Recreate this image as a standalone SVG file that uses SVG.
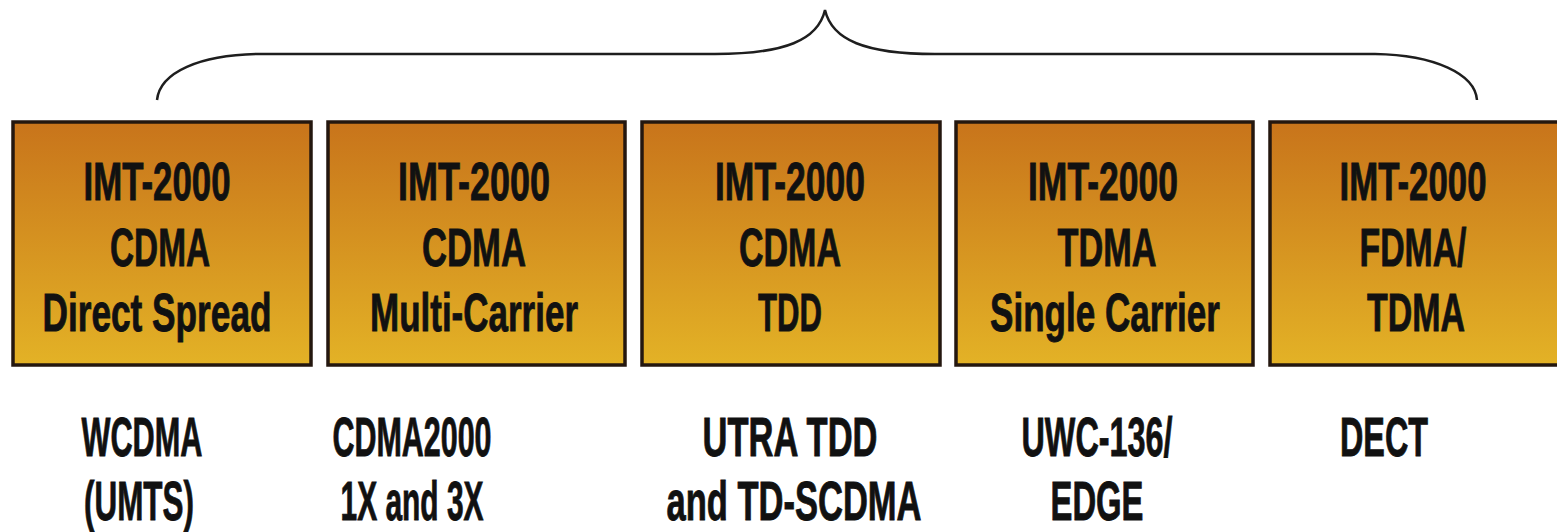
<svg xmlns="http://www.w3.org/2000/svg" width="1557" height="532" viewBox="0 0 1557 532">
<defs>
<linearGradient id="boxFill" x1="0" y1="0" x2="0" y2="1">
<stop offset="0" stop-color="#C8741B"/>
<stop offset="1" stop-color="#E3B226"/>
</linearGradient>
<style>
.box{fill:url(#boxFill);stroke:#24170f;stroke-width:3.5}
.bt{font-family:"Liberation Sans",Arial,sans-serif;font-weight:bold;font-size:54px;fill:#111;stroke:#111;stroke-width:0.9;text-anchor:middle}
.lb{font-family:"Liberation Sans",Arial,sans-serif;font-weight:bold;font-size:55px;fill:#111;stroke:#111;stroke-width:0.9;text-anchor:middle}
.brace{fill:none;stroke:#1e1e1e;stroke-width:2.5}
</style>
</defs>
<rect width="1557" height="532" fill="#fff"/>
<g id="connectors">
<path class="brace" d="M157,100 C160,72 200,55 258,54 L715,54 C785,54 818,40 825,10 C832,40 865,54 935,54 L1375,54 C1435,55 1475,74 1477,100"/>
</g>
<g id="node1">
<rect class="box" x="13" y="122" width="298" height="243"/>
<text class="bt" x="157" y="200" textLength="147" lengthAdjust="spacingAndGlyphs">IMT-2000</text>
<text class="bt" x="160" y="266" textLength="100" lengthAdjust="spacingAndGlyphs">CDMA</text>
<text class="bt" x="157" y="331" textLength="229" lengthAdjust="spacingAndGlyphs">Direct Spread</text>
</g>
<g id="node2">
<rect class="box" x="328" y="122" width="297" height="243"/>
<text class="bt" x="474" y="200" textLength="152" lengthAdjust="spacingAndGlyphs">IMT-2000</text>
<text class="bt" x="474" y="266" textLength="104" lengthAdjust="spacingAndGlyphs">CDMA</text>
<text class="bt" x="474" y="331" textLength="208" lengthAdjust="spacingAndGlyphs">Multi-Carrier</text>
</g>
<g id="node3">
<rect class="box" x="642" y="122" width="298" height="243"/>
<text class="bt" x="790" y="200" textLength="150" lengthAdjust="spacingAndGlyphs">IMT-2000</text>
<text class="bt" x="790" y="266" textLength="102" lengthAdjust="spacingAndGlyphs">CDMA</text>
<text class="bt" x="790" y="331" textLength="64" lengthAdjust="spacingAndGlyphs">TDD</text>
</g>
<g id="node4">
<rect class="box" x="956" y="122" width="297" height="243"/>
<text class="bt" x="1103" y="200" textLength="150" lengthAdjust="spacingAndGlyphs">IMT-2000</text>
<text class="bt" x="1107" y="266" textLength="99" lengthAdjust="spacingAndGlyphs">TDMA</text>
<text class="bt" x="1105" y="331" textLength="230" lengthAdjust="spacingAndGlyphs">Single Carrier</text>
</g>
<g id="node5">
<rect class="box" x="1270" y="122" width="300" height="243"/>
<text class="bt" x="1413" y="200" textLength="147" lengthAdjust="spacingAndGlyphs">IMT-2000</text>
<text class="bt" x="1413" y="266" textLength="107" lengthAdjust="spacingAndGlyphs">FDMA/</text>
<text class="bt" x="1416" y="331" textLength="98" lengthAdjust="spacingAndGlyphs">TDMA</text>
</g>
<g id="labels">
<text class="lb" x="142" y="456" textLength="121" lengthAdjust="spacingAndGlyphs">WCDMA</text>
<text class="lb" x="139" y="520" textLength="110" lengthAdjust="spacingAndGlyphs">(UMTS)</text>
<text class="lb" x="412" y="456" textLength="159" lengthAdjust="spacingAndGlyphs">CDMA2000</text>
<text class="lb" x="412" y="520" textLength="143" lengthAdjust="spacingAndGlyphs">1X and 3X</text>
<text class="lb" x="790" y="456" textLength="175" lengthAdjust="spacingAndGlyphs">UTRA TDD</text>
<text class="lb" x="794" y="520" textLength="255" lengthAdjust="spacingAndGlyphs">and TD-SCDMA</text>
<text class="lb" x="1097" y="456" textLength="151" lengthAdjust="spacingAndGlyphs">UWC-136/</text>
<text class="lb" x="1097" y="520" textLength="93" lengthAdjust="spacingAndGlyphs">EDGE</text>
<text class="lb" x="1384" y="456" textLength="88" lengthAdjust="spacingAndGlyphs">DECT</text>
</g>
</svg>
